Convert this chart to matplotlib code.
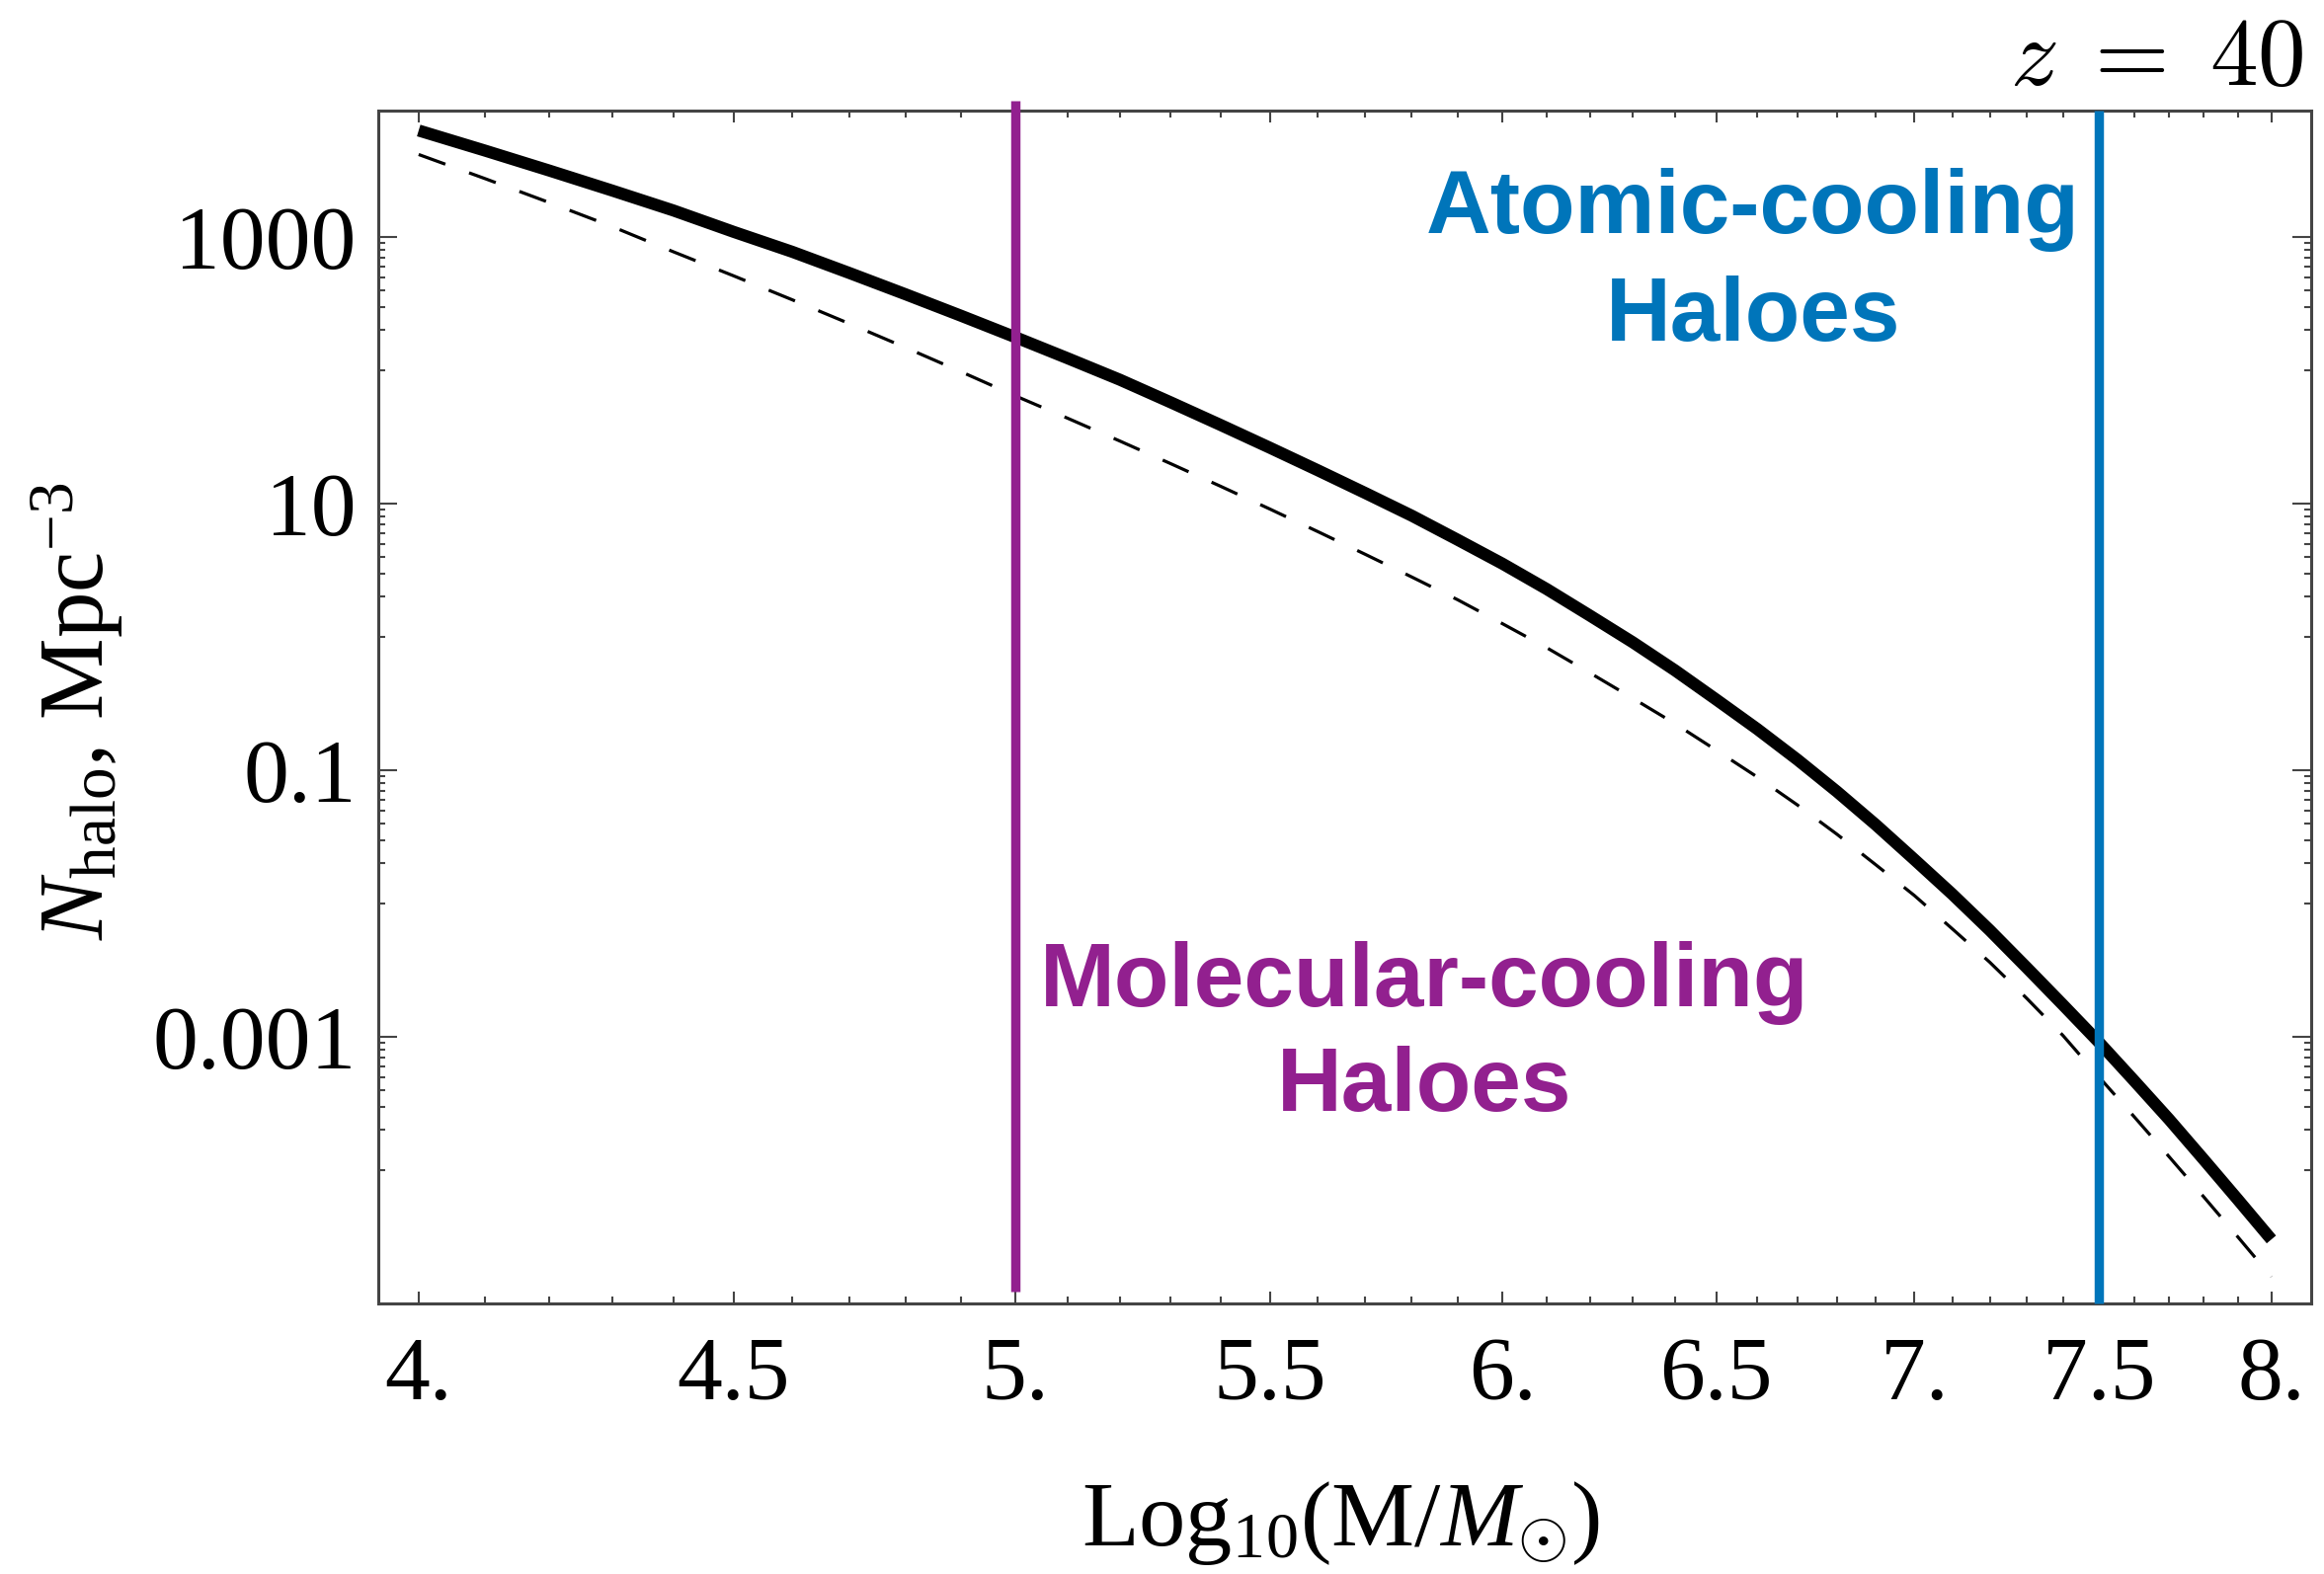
import numpy as np
import matplotlib
matplotlib.use("Agg")
import matplotlib.pyplot as plt
from matplotlib.ticker import FixedLocator, FixedFormatter, NullFormatter

# Halo mass grid, log10(M / M_sun)
log_mass = [4.0, 4.1, 4.2, 4.3, 4.4, 4.5, 4.6, 4.7, 4.8, 4.9,
            5.0, 5.1, 5.2, 5.3, 5.4, 5.5, 5.6, 5.7, 5.8, 5.9,
            6.0, 6.1, 6.2, 6.3, 6.4, 6.5, 6.6, 6.7, 6.8, 6.9,
            7.0, 7.1, 7.2, 7.3, 7.4, 7.5, 7.6, 7.7, 7.8, 7.9, 8.0]

# log10 of halo number density (Mpc^-3), thick solid curve
log_n_solid = [3.80, 3.65, 3.50, 3.35, 3.20, 3.04, 2.89, 2.73, 2.57, 2.41,
               2.25, 2.09, 1.93, 1.76, 1.59, 1.42, 1.25, 1.08, 0.91, 0.73,
               0.55, 0.36, 0.16, -0.04, -0.25, -0.47, -0.69, -0.92, -1.16, -1.41,
               -1.67, -1.93, -2.20, -2.48, -2.76, -3.04, -3.33, -3.62, -3.92, -4.22,
               -4.52]

# log10 of halo number density (Mpc^-3), thin dashed curve
log_n_dashed = [3.62, 3.44, 3.26, 3.08, 2.89, 2.71, 2.53, 2.35, 2.17, 1.99,
                1.81, 1.64, 1.47, 1.30, 1.13, 0.96, 0.79, 0.62, 0.45, 0.28,
                0.10, -0.08, -0.27, -0.46, -0.65, -0.85, -1.05, -1.26, -1.48, -1.71,
                -1.94, -2.19, -2.44, -2.71, -2.99, -3.30, -3.60, -3.90, -4.20, -4.50,
                -4.80]

# Cooling thresholds
m_molecular = 5.0
m_atomic = 7.5

x_ticks = [4.0, 4.5, 5.0, 5.5, 6.0, 6.5, 7.0, 7.5, 8.0]
x_tick_labels = ["4.", "4.5", "5.", "5.5", "6.", "6.5", "7.", "7.5", "8."]
y_ticks = [1e3, 1e1, 1e-1, 1e-3]
y_tick_labels = ["1000", "10", "0.1", "0.001"]

PURPLE = "#92208F"
BLUE = "#0075BA"
FRAME = "#444444"
SERIF = "Liberation Serif"
SANS = "Liberation Sans"

plt.rcParams["mathtext.fontset"] = "custom"
plt.rcParams["mathtext.rm"] = SERIF
plt.rcParams["mathtext.it"] = SERIF + ":italic"
plt.rcParams["mathtext.bf"] = SERIF + ":bold"

W, H, DPI = 2353, 1594, 100
fig = plt.figure(figsize=(W / DPI, H / DPI), dpi=DPI)
fig.patch.set_facecolor("white")

L, R, T, B = 383, 2340, 112, 1320
ax = fig.add_axes([L / W, 1 - B / H, (R - L) / W, (B - T) / H])
ax.set_xscale("log")
ax.set_yscale("log")
ax.set_xlim(3.94, 8.12)
ax.set_ylim(1.0e-5, 8.9e3)

x = np.array(log_mass)
ax.plot(x, 10 ** np.array(log_n_solid), color="black", lw=8.8,
        solid_capstyle="butt", solid_joinstyle="round", zorder=3)
ax.plot(x, 10 ** np.array(log_n_dashed), color="black", lw=2.3,
        dashes=(9, 8), dash_capstyle="butt", zorder=3)

# Threshold lines
xt = ax.get_xaxis_transform()
ax.plot([m_molecular, m_molecular], [0.01, 1.008], transform=xt,
        color=PURPLE, lw=6.8, solid_capstyle="butt", clip_on=False, zorder=4)
ax.plot([m_atomic, m_atomic], [0.0, 1.0], transform=xt,
        color=BLUE, lw=6.8, solid_capstyle="butt", clip_on=False, zorder=4)

# Frame and ticks
for s in ax.spines.values():
    s.set_color(FRAME)
    s.set_linewidth(2.2)

ax.xaxis.set_major_locator(FixedLocator(x_ticks))
ax.xaxis.set_major_formatter(FixedFormatter(x_tick_labels))
x_minor = [v for v in log_mass if v not in x_ticks]
ax.xaxis.set_minor_locator(FixedLocator(x_minor))
ax.xaxis.set_minor_formatter(NullFormatter())

ax.yaxis.set_major_locator(FixedLocator(y_ticks))
ax.yaxis.set_major_formatter(FixedFormatter(y_tick_labels))
y_minor = [m * t / 10.0 for t in y_ticks for m in range(1, 10)]
ax.yaxis.set_minor_locator(FixedLocator(y_minor))
ax.yaxis.set_minor_formatter(NullFormatter())

ax.tick_params(axis="both", which="both", direction="in", color=FRAME,
               top=True, right=True, width=1.5)
ax.tick_params(axis="x", which="major", length=8.6, pad=24)
ax.tick_params(axis="x", which="minor", length=5)
ax.tick_params(axis="y", which="major", length=14, pad=16)
ax.tick_params(axis="y", which="minor", length=5)
for lab in ax.get_xticklabels() + ax.get_yticklabels():
    lab.set_fontfamily(SERIF)
    lab.set_fontsize(66)

# Axis titles
fig.text(78 / W, 1 - 720 / H, r"$N_{\rm halo}$, Mpc$^{-3}$", rotation=90,
         ha="center", va="center", fontsize=67, family=SERIF)
fig.text(1357 / W, 1 - 1565 / H, r"Log$_{10}$(M/$M_{\odot}$)",
         ha="center", va="baseline", fontsize=68, family=SERIF)

# Redshift tag
fig.text(2333 / W, 1 - 86 / H, r"$z\;=\;40$", ha="right", va="baseline",
         fontsize=70, math_fontfamily="cm")

# Region labels
def label(xc, yb, s, color):
    fig.text(xc / W, 1 - yb / H, s, ha="center", va="baseline",
             fontsize=65.5, fontweight="bold", family=SANS, color=color)

label(1775, 236, "Atomic-cooling", BLUE)
label(1775, 345, "Haloes", BLUE)
label(1442, 1019, "Molecular-cooling", PURPLE)
label(1442, 1125, "Haloes", PURPLE)

fig.savefig("out.png", dpi=DPI, facecolor="white")
